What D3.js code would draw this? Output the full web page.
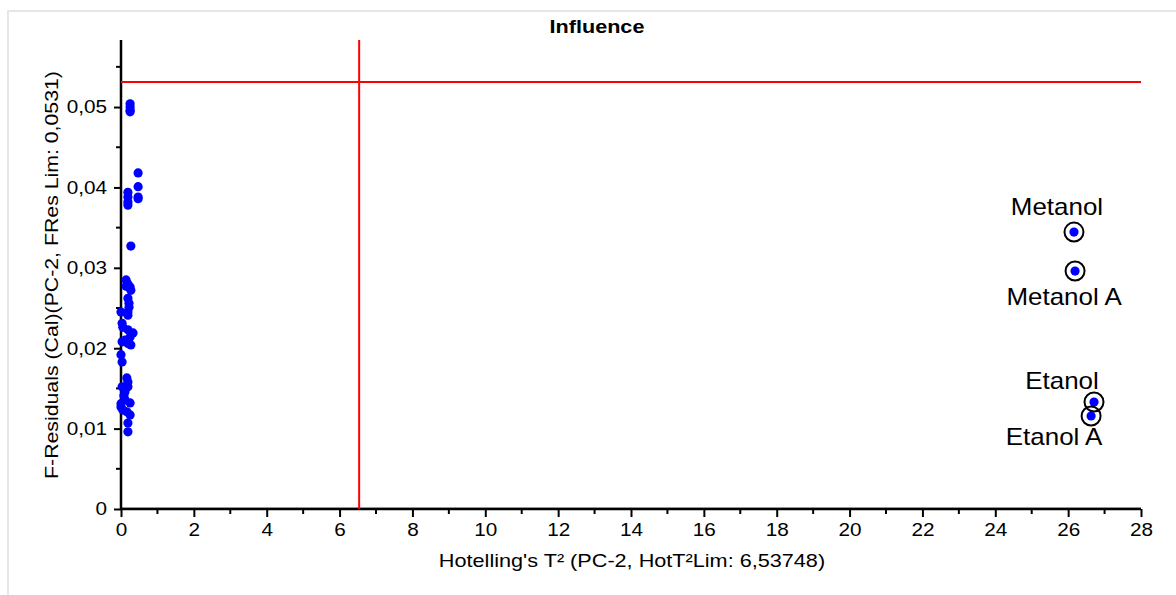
<!DOCTYPE html>
<html><head><meta charset="utf-8">
<script src="https://cdn.jsdelivr.net/npm/d3@7"></script>
<style>body{margin:0;background:#fff;}svg{display:block;font-family:"Liberation Sans",Arial,sans-serif;}</style>
</head><body><svg id="c" width="1176" height="595"></svg>
<script>
// Cluster of samples (Hotelling's T², F-residual)
const clusterT2 = [0.25,0.25,0.25,0.25,0.47,0.47,0.47,0.47,0.19,0.19,0.19,0.19,0.27,0.14,0.19,0.25,0.27,0.14,0.19,0.22,0.22,0.19,0.19,0.0,0.03,0.05,0.19,0.33,0.25,0.03,0.11,0.19,0.27,0.0,0.03,0.16,0.19,0.03,0.19,0.11,0.11,0.25,0.0,0.05,0.16,0.25,0.19,0.19,0.0,0.08];
const clusterFRes = [0.0504,0.0500,0.0496,0.0494,0.0418,0.0401,0.0388,0.0386,0.0394,0.0388,0.0382,0.0378,0.0327,0.0285,0.0280,0.0276,0.0272,0.0277,0.0262,0.0256,0.0251,0.0245,0.0241,0.0245,0.0231,0.0226,0.0223,0.0219,0.0214,0.0208,0.0210,0.0206,0.0204,0.0192,0.0183,0.0163,0.0158,0.0152,0.0152,0.0146,0.0136,0.0132,0.0127,0.0123,0.0121,0.0117,0.0107,0.0096,0.0131,0.0141];
// Labelled outliers
const outlierNames = ["Metanol","Metanol A","Etanol","Etanol A"];
const outlierT2 = [26.16,26.19,26.71,26.63];
const outlierFRes = [0.03445,0.0296,0.01331,0.01157];
// Limits
const hotT2Lim = 6.53748;
const fResLim = 0.0531;
// Ticks
const xTicks = [0,2,4,6,8,10,12,14,16,18,20,22,24,26,28];
const xMinor = [1,3,5,7,9,11,13,15,17,19,21,23,25,27];
const yTicks = [0,0.01,0.02,0.03,0.04,0.05];
const yTickLabels = ["0","0,01","0,02","0,03","0,04","0,05"];
const yMinor = [0.005,0.015,0.025,0.035,0.045,0.055];

const svg = d3.select("#c");
const L=121, R=1141, T=40, B=509;
const x = d3.scaleLinear().domain([0,28]).range([L,R]);
const y = d3.scaleLinear().domain([0,0.05834]).range([B,T]);

// the reference font is a little wider than Liberation Sans
function widen(sel, f){
  sel.each(function(){
    const w = this.getComputedTextLength();
    d3.select(this).attr("textLength", w*f).attr("lengthAdjust","spacingAndGlyphs");
  });
}
const FF = '"Liberation Sans", Arial, sans-serif';

// frame
svg.append("path").attr("d","M8,600 V11 H1180").attr("fill","none").attr("stroke","#e6e6e6").attr("stroke-width",2);

// title
widen(svg.append("text").attr("x",597).attr("y",33).attr("text-anchor","middle").style("font-size","18px").attr("font-weight","bold").text("Influence"), 1.2);

// light line above x axis
svg.append("line").attr("x1",L).attr("x2",R).attr("y1",B-1.5).attr("y2",B-1.5).attr("stroke","#c8c8c8").attr("stroke-width",1);

// axes
const xAxis = d3.axisBottom(x).tickValues(xTicks).tickSize(8).tickFormat(d3.format("d"));
const gx = svg.append("g").attr("transform",`translate(0,${B})`).call(xAxis);
gx.attr("font-size",null).attr("font-family",null);
gx.select(".domain").attr("stroke","#000").attr("stroke-width",2.5).attr("d",`M${L},0H${R}`);
gx.selectAll(".tick line").attr("stroke-width",2);
gx.selectAll(".tick text").style("font-size","18.5px").style("font-family",FF).attr("dy","0.88em").attr("fill","#000");
widen(gx.selectAll(".tick text"), 1.12);
gx.selectAll(".minor").data(xMinor).enter().append("line").attr("x1",d=>x(d)).attr("x2",d=>x(d)).attr("y1",0).attr("y2",5).attr("stroke","#000").attr("stroke-width",2);

const yAxis = d3.axisLeft(y).tickValues(yTicks).tickSize(7).tickFormat((d,i)=>yTickLabels[i]);
const gy = svg.append("g").attr("transform",`translate(${L},0)`).call(yAxis);
gy.attr("font-size",null).attr("font-family",null);
gy.select(".domain").attr("stroke","#000").attr("stroke-width",2.5).attr("d",`M0,${T}V${B}`);
gy.selectAll(".tick line").attr("stroke-width",2);
gy.selectAll(".tick text").style("font-size","18.5px").style("font-family",FF).attr("x",-14).attr("fill","#000");
widen(gy.selectAll(".tick text"), 1.12);
gy.selectAll(".minor").data(yMinor).enter().append("line").attr("x1",0).attr("x2",-5).attr("y1",d=>y(d)).attr("y2",d=>y(d)).attr("stroke","#000").attr("stroke-width",2);

// axis labels
widen(svg.append("text").attr("x",632).attr("y",567).attr("text-anchor","middle").style("font-size","18.5px").text("Hotelling's T² (PC-2, HotT²Lim: 6,53748)"), 1.17);
widen(svg.append("text").attr("transform","translate(58,275) rotate(-90)").attr("text-anchor","middle").style("font-size","18.5px").text("F-Residuals (Cal)(PC-2, FRes Lim: 0,0531)"), 1.15);

// limit lines
svg.append("line").attr("x1",x(hotT2Lim)).attr("x2",x(hotT2Lim)).attr("y1",T).attr("y2",B).attr("stroke","#ff0000").attr("stroke-width",2);
svg.append("line").attr("x1",L).attr("x2",R).attr("y1",y(fResLim)).attr("y2",y(fResLim)).attr("stroke","#ff0000").attr("stroke-width",2);

// cluster points
svg.append("g").selectAll("circle").data(clusterT2).enter().append("circle")
  .attr("cx",d=>x(d)).attr("cy",(d,i)=>y(clusterFRes[i])).attr("r",4.6).attr("fill","#0000ff");

// outliers
const labelOff = [[-17,-17],[-11,34],[-32,-13],[-37,29]];
const og = svg.append("g");
outlierT2.forEach((t,i)=>{
  const cx=x(t), cy=y(outlierFRes[i]);
  og.append("circle").attr("cx",cx).attr("cy",cy).attr("r",4.6).attr("fill","#0000ff");
  og.append("circle").attr("cx",cx).attr("cy",cy).attr("r",9.5).attr("fill","none").attr("stroke","#000").attr("stroke-width",2);
  widen(og.append("text").attr("x",cx+labelOff[i][0]).attr("y",cy+labelOff[i][1]).attr("text-anchor","middle").style("font-size","24px").text(outlierNames[i]), 1.08);
});
</script></body></html>
